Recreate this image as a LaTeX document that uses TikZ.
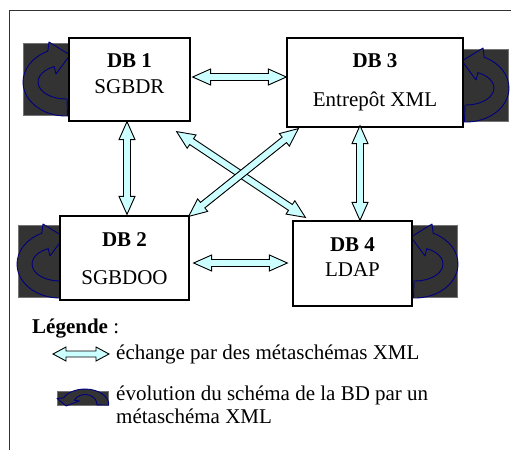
\documentclass[tikz,border=0pt]{standalone}
\usepackage{fontspec}
\setmainfont{Liberation Serif}
\usetikzlibrary{calc}
\definecolor{cyanpale}{HTML}{CCFFFF}
\definecolor{sombre}{HTML}{333333}
\definecolor{marine}{HTML}{000080}
\tikzset{
evol/.pic = {
  \filldraw[fill=sombre, draw=marine, line width=0.9pt, line join=round]
    (1.5,34) arc[start angle=88, end angle=245, x radius=43, y radius=34]
    -- (-17,-40) -- (4,-27) -- (-10,-8)
    -- (-11.8,-15.4) arc[start angle=245, end angle=88, x radius=28, y radius=17]
    -- cycle;
}
}

\begin{document}
\begin{tikzpicture}[x=1pt, y=-1pt, font=\fontsize{21pt}{25pt}\selectfont,
dbbox/.style={rectangle, draw=black, fill=white, line width=1.2pt, inner sep=0pt},
carre/.style={rectangle, fill=sombre, draw=black!55, line width=0.3pt, inner sep=0pt},
titre/.style={anchor=base, inner sep=0pt, font=\fontsize{21pt}{25pt}\selectfont\bfseries},
sous/.style={anchor=base, inner sep=0pt},
bloc/.style={fill=cyanpale, draw=black, line width=0.9pt, line join=miter}]
\useasboundingbox (0,0) rectangle (511,450);
%
\def\hl{18pt}\def\hw{8pt}\def\sw{3.5pt}
\def\echange#1#2{%
\filldraw[bloc] let \p1=(#1), \p2=(#2), \n1={atan2(\y2-\y1,\x2-\x1)}, \n2={veclen(\x2-\x1,\y2-\y1)} in
  [shift={(\p1)}, rotate=\n1]
  (0pt,0pt) -- (\hl,\hw) -- (\hl,\sw) -- (\n2-\hl,\sw) -- (\n2-\hl,\hw) -- (\n2,0pt)
  -- (\n2-\hl,-\hw) -- (\n2-\hl,-\sw) -- (\hl,-\sw) -- (\hl,-\hw) -- cycle;}

% cadre
\draw[black!80, line width=1pt] (9,450) -- (9,10) -- (511,10);

% carres sombres
\node[carre, minimum width=46, minimum height=72] at (46,79) (sq1) {};
\node[carre, minimum width=45, minimum height=72] at (485.5,85) (sq3) {};
\node[carre, minimum width=45, minimum height=72] at (40.5,261) (sq2) {};
\node[carre, minimum width=45, minimum height=72] at (434.5,261) (sq4) {};

\pic at (66,82) {evol};
\pic[xscale=-1] at (466,88) {evol};
\pic at (60,264) {evol};
\pic[xscale=-1] at (415,264) {evol};

% bases
\node[dbbox, minimum width=121, minimum height=83] at (129.5,79.5) (db1) {};
\node[dbbox, minimum width=176, minimum height=89] at (375,82.5) (db3) {};
\node[dbbox, minimum width=129, minimum height=84] at (124.5,258) (db2) {};
\node[dbbox, minimum width=119, minimum height=85] at (352.5,263.5) (db4) {};

\node[titre] at ($(db1.north)+(0,30)$) (db1t) {DB 1};
\node[sous] at ($(db1.north)+(0,56)$) (db1s) {SGBDR};
\node[titre] at ($(db3.north)+(0,30)$) (db3t) {DB 3};
\node[sous] at ($(db3.north)+(0,69)$) (db3s) {Entrepôt XML};
\node[titre] at ($(db2.north)+(0,31)$) (db2t) {DB 2};
\node[sous] at ($(db2.north)+(0,69)$) (db2s) {SGBDOO};
\node[titre] at ($(db4.north)+(0,31)$) (db4t) {DB 4};
\node[sous] at ($(db4.north)+(0,56)$) (db4s) {LDAP};

% echanges
\echange{$(db1.east)+(2,-2.5)$}{$(db3.west)+(0,-5.5)$}
\echange{$(db1.south)+(-2.5,0)$}{$(db2.north)+(2.5,-1)$}
\echange{$(db3.south)+(-15,-2)$}{$(db4.north)+(7.5,0)$}
\echange{$(db2.east)+(4,5)$}{$(db4.west)+(-5,-0.5)$}
\echange{$(db1.south east)+(-14,10)$}{$(db4.north west)+(13,-3)$}
\echange{$(db2.north east)+(-1,1)$}{$(db3.south west)+(12,1)$}

% legende
\node[anchor=base west, inner sep=0pt] at (32,333) (legende) {\textbf{Légende} :};
\coordinate (legA) at (53,354);
\coordinate (legB) at (109,354);
{\def\hl{13pt}\def\hw{7pt}\def\sw{3pt}\echange{legA}{legB}}
\node[anchor=base west, inner sep=0pt] at (116,359) (leg1) {échange par des métaschémas XML};

\node[carre, minimum width=51, minimum height=14] at (82.5,398) (sqleg) {};
\pic[xscale=0.7, yscale=0.36, rotate=90, xscale=-1] at (85,404.5) {evol};
\node[anchor=base west, inner sep=0pt] at (116,400) (leg2) {évolution du schéma de la BD par un};
\node[anchor=base west, inner sep=0pt] at (116,423) (leg3) {métaschéma XML};

\end{tikzpicture}
\end{document}
